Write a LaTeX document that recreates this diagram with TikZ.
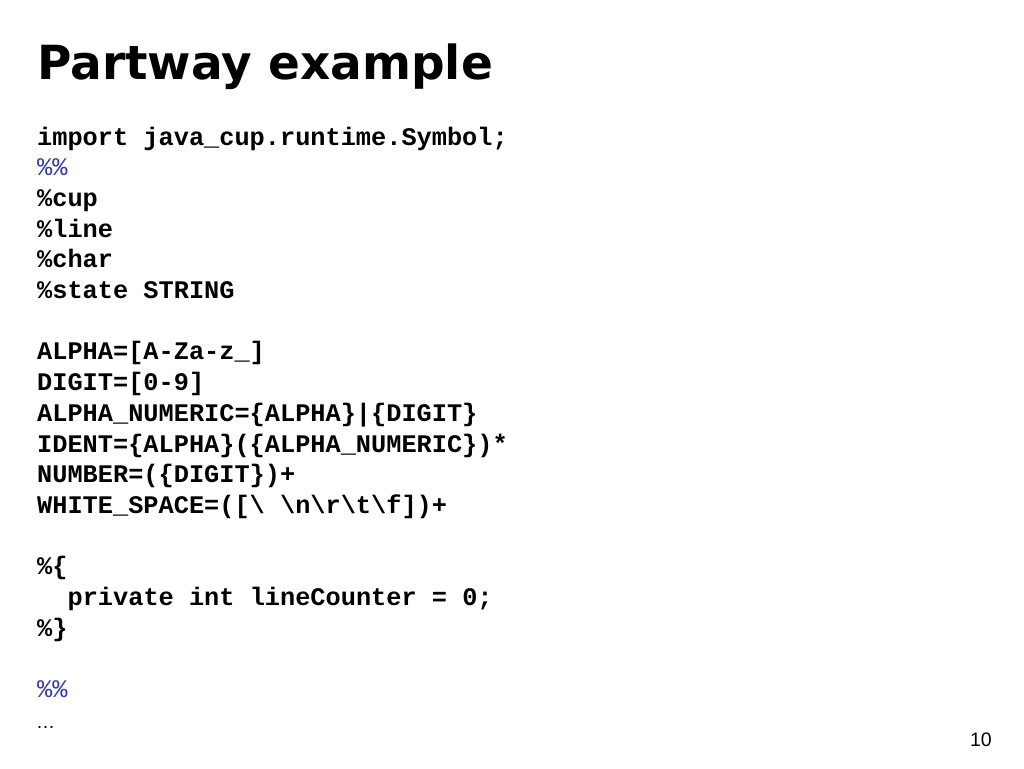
\documentclass[tikz,border=0pt]{standalone}
\usepackage{fontspec}
\setmainfont{Liberation Sans}
\setmonofont{Liberation Mono}
\newfontfamily\titlefont{DejaVu Sans}
\usepackage{tikz}

\definecolor{pctblue}{rgb}{0.22,0.22,0.62}

\tikzset{
  code/.style={anchor=base west,inner sep=0pt,font=\fontsize{25.3}{30}\selectfont\ttfamily\bfseries},
  pct/.style={anchor=base west,inner sep=0pt,text=pctblue,font=\fontsize{25.3}{30}\selectfont\ttfamily}
}

\begin{document}
\begin{tikzpicture}[x=1pt,y=-1pt]
\useasboundingbox (0,0) rectangle (1024,768);
\node [anchor=base west,inner sep=0pt,font=\fontsize{47}{50}\selectfont\titlefont\bfseries] (title) at (37,79) {Partway example};
\node [code] (import) at (37,145) {import java\_cup.runtime.Symbol;};
\node [pct] (sep1) at (37,175.7) {\%\%};
\node [code] (cup) at (37,206.4) {\%cup};
\node [code] (line) at (37,237.1) {\%line};
\node [code] (char) at (37,267.8) {\%char};
\node [code] (state) at (37,298.5) {\%state STRING};
\node [code] (alpha) at (37,359.9) {ALPHA=[A-Za-z\_]};
\node [code] (digit) at (37,390.6) {DIGIT=[0-9]};
\node [code] (alnum) at (37,421.3) {ALPHA\_NUMERIC=\{ALPHA\}|\{DIGIT\}};
\node [code] (ident) at (37,452) {IDENT=\{ALPHA\}(\{ALPHA\_NUMERIC\})*};
\node [code] (number) at (37,482.7) {NUMBER=(\{DIGIT\})+};
\node [code] (white) at (37,513.4) {WHITE\_SPACE=([\textbackslash\ \textbackslash n\textbackslash r\textbackslash t\textbackslash f])+};
\node [code] (open) at (37,574.8) {\%\{};
\node [code] (counter) at (67.4,605.5) {private int lineCounter = 0;};
\node [code] (close) at (37,636.2) {\%\}};
\node [pct] (sep2) at (37,697.6) {\%\%};
\node [anchor=base west,inner sep=0pt,font=\fontsize{19}{22}\selectfont] (dots) at (36,728.3) {…};
\node [anchor=base east,inner sep=0pt,font=\fontsize{19.5}{22}\selectfont] (page) at (992,746) {10};
\end{tikzpicture}
\end{document}
